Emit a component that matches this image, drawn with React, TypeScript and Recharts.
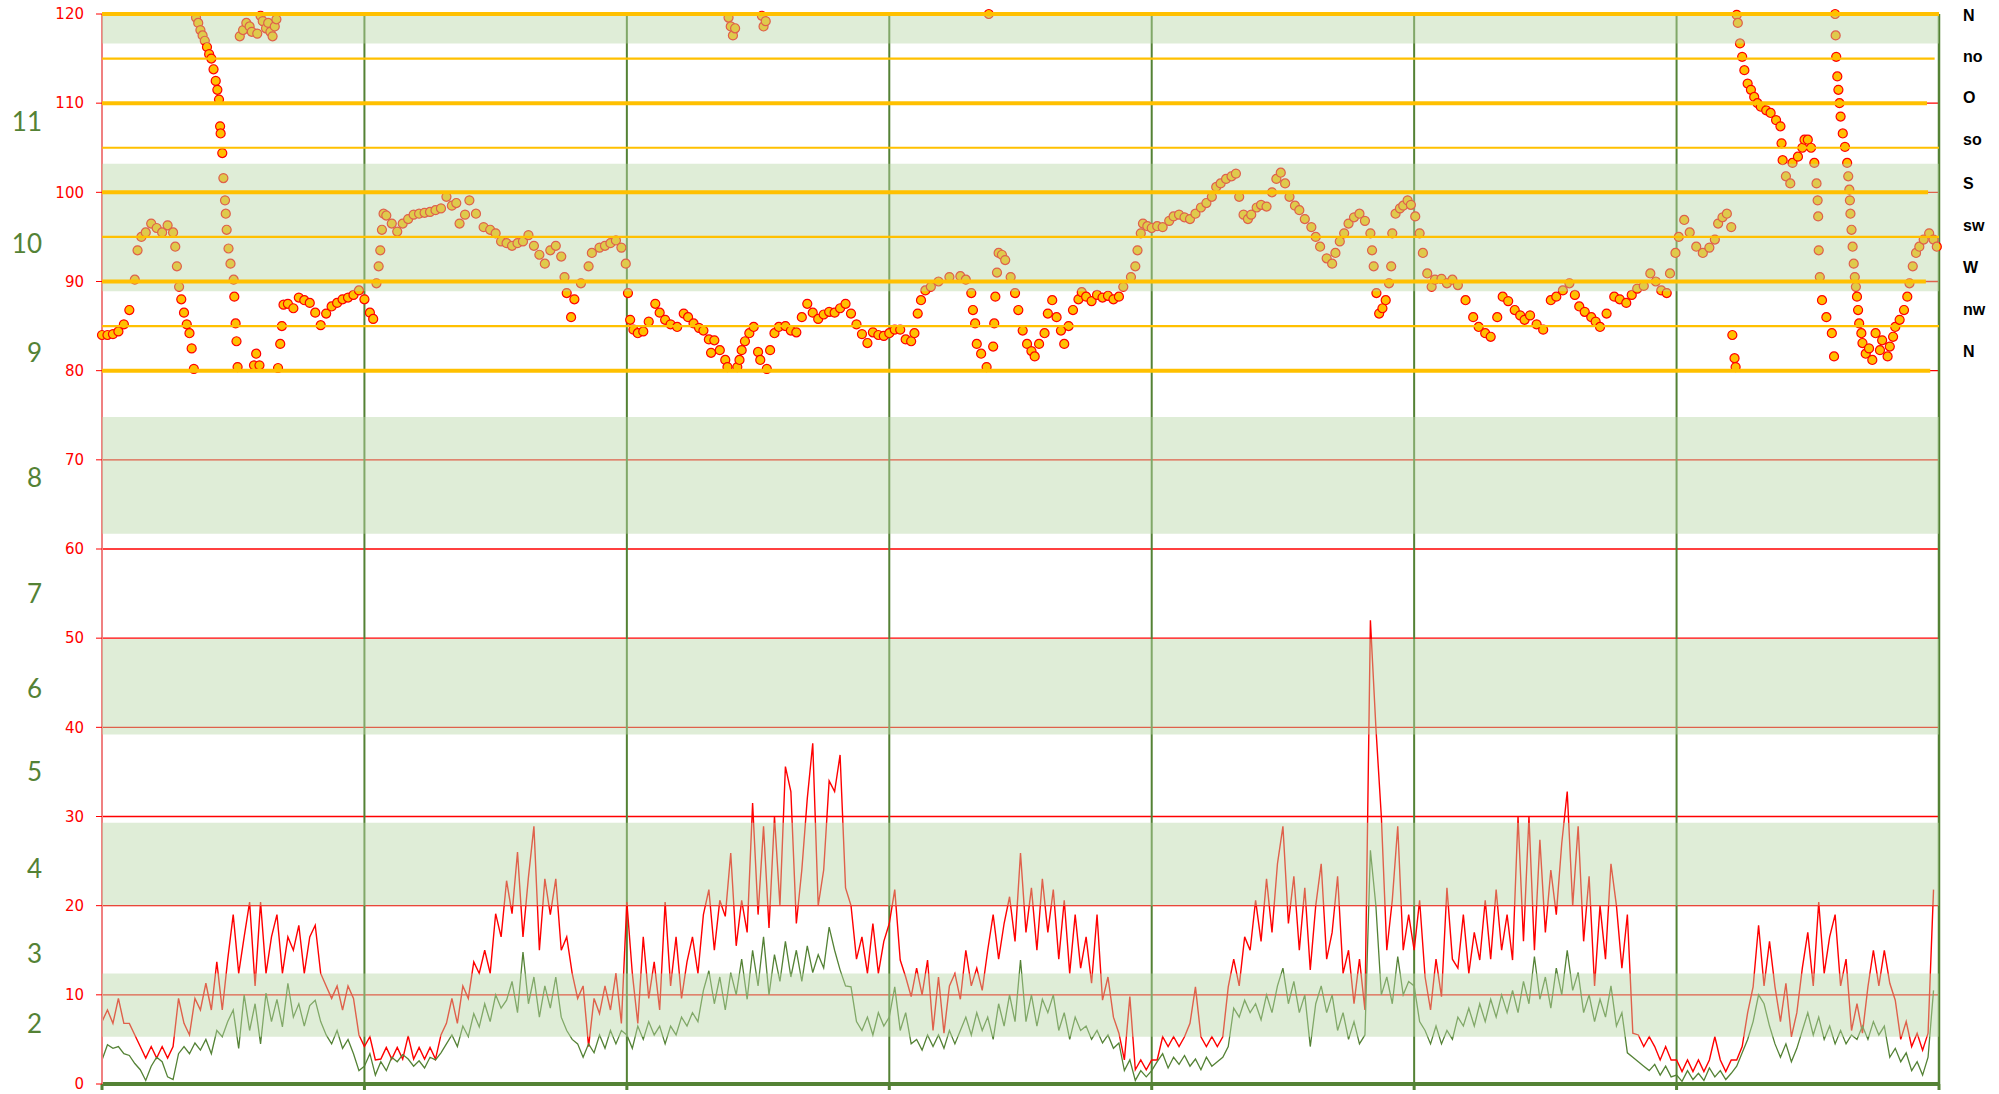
import {
  ComposedChart,
  Line,
  Scatter,
  XAxis,
  YAxis,
  CartesianGrid,
  ReferenceArea,
  ReferenceLine,
} from 'recharts'

// gust (km/h), one value per half hour, day by day
const gustDays = [
  [7, 8.3, 6.8, 9.6, 6.8, 6.8, 5.5, 4.2, 2.9, 4.2, 2.9, 4.2,
    2.9, 4.2, 9.6, 6.8, 5.5, 9.6, 8.3, 11.3, 8.3, 13.7, 8.3, 14,
    19, 12.4, 16.5, 20.4, 11, 20.4, 12.4, 16.5, 19, 12.4, 16.5, 15,
    17.8, 12.4, 16.5, 17.8, 12.4, 11, 9.6, 11, 8.3, 11, 9.6, 5.5],
  [4.2, 5.3, 2.7, 2.8, 4.1, 2.8, 4.1, 2.8, 5.4, 2.8, 4.1, 2.8,
    4.1, 2.8, 5.5, 6.8, 9.6, 6.8, 11, 9.6, 13.7, 12.4, 15, 12.4,
    19.1, 16.5, 22.8, 19.1, 26, 16.5, 23.2, 28.9, 15, 23, 19, 23,
    15, 16.5, 12.4, 9.6, 11, 4.2, 9.6, 7.9, 11, 8.3, 12.4, 6.8],
  [20.4, 12.4, 6.8, 16.5, 9.6, 13.7, 8.3, 20.4, 11, 16.5, 9.6, 13.7,
    16.5, 12.4, 19, 21.8, 15, 20.6, 18.8, 25.9, 15.5, 20.6, 17, 31.5,
    19, 28.9, 17.5, 30, 20, 35.6, 32.8, 18, 24, 32, 38.2, 20,
    24, 34, 32.8, 36.9, 22, 20, 14, 16.5, 12.4, 18, 12.4, 16],
  [18, 21.8, 13.9, 12, 9.8, 13, 10, 13.9, 6, 12, 5.7, 11,
    12.4, 9.5, 15, 11, 13, 10.5, 15, 19, 14, 18, 21, 16,
    25.9, 17, 22, 15, 23, 17, 21.8, 14, 20.6, 12.4, 19, 13,
    16.5, 11.3, 19, 9.4, 12, 7.5, 5.7, 2.7, 9.8, 1.6, 2.7, 1.6],
  [2.7, 2.7, 5.3, 4.2, 5.3, 4.2, 5.3, 6.8, 10.9, 5.3, 4.2, 5.3,
    4.2, 5.3, 10.9, 14, 11, 16.5, 15, 20.6, 16, 23, 17, 24.7,
    28.9, 18, 23.3, 15, 22, 12.8, 20, 24.7, 14, 17, 23.3, 12.4,
    15, 9, 14, 8.3, 52, 40, 30, 15, 20.6, 28.9, 15, 19],
  [15, 20.6, 12, 8.3, 14, 9.8, 22, 14, 13, 19, 12.4, 17,
    13.9, 20.6, 14, 21.8, 15, 19, 13.9, 30, 16, 30, 15, 27.4,
    17, 24, 19, 27, 32.8, 20, 28.9, 16, 23.3, 11, 20, 14,
    24.7, 20, 13, 19, 5.7, 5.5, 4.2, 5.3, 4.2, 2.7, 4.2, 2.7],
  [2.7, 1.4, 2.7, 1.4, 2.7, 1.4, 2.7, 5.3, 2.7, 1.4, 2.7, 2.7,
    4.2, 8, 10.9, 17.8, 11, 16, 10.9, 7, 11.3, 5.3, 8, 13,
    17, 11, 20.4, 12.4, 16.5, 19, 11, 14, 6, 9, 5.7, 10.9,
    15, 11, 15, 11.3, 9.4, 5, 7, 4.2, 5.7, 3.8, 5.7, 21.8],
]

// mean wind speed (km/h), same time steps
const speedDays = [
  [2.7, 4.4, 4, 4.2, 3.4, 3.2, 2.3, 1.6, 0.4, 2, 3, 2.5,
    0.8, 0.5, 3.4, 4.2, 3.4, 4.6, 3.8, 5, 3.4, 6, 5.3, 7,
    8.3, 4, 10, 6, 9, 4.5, 10.2, 7, 9.5, 6.4, 11.3, 7.5,
    9, 6.5, 8.8, 9.4, 7, 5.5, 4.5, 6, 4, 5, 3.4, 1.5],
  [2, 3.4, 1, 2.5, 1.5, 3, 2.5, 3.3, 2.8, 2, 2.6, 1.8,
    3, 2.7, 3.5, 4.5, 5.5, 4.2, 6.5, 5.3, 7.9, 6.4, 9, 7,
    10, 8.5, 9.4, 11.5, 8, 14.8, 9, 12, 7.5, 11, 8.5, 12,
    7.5, 6, 5, 4.5, 3, 4.5, 3.5, 5.5, 4, 6, 4.5, 6],
  [5.5, 4, 6.5, 5, 7, 5.5, 6.5, 4.5, 6.5, 5.5, 7.5, 6.5,
    8, 7, 10.5, 12.7, 9, 12, 8.3, 12.5, 10, 14, 9.5, 15,
    11, 16.5, 10, 14.5, 11.5, 16, 12, 15, 11.5, 15.5, 12.5, 14.5,
    13, 17.6, 15, 12.8, 11, 10.9, 7, 6, 7.5, 5.5, 8, 6.5],
  [7.5, 10.9, 6, 8, 4.5, 5, 3.8, 5.5, 4.2, 5.5, 4, 6,
    4.5, 6, 7.5, 5.5, 8, 6, 7.5, 5, 9, 6.5, 10, 7,
    13.9, 7, 10, 6.5, 9.5, 8, 10, 6, 8, 5, 7.5, 6,
    6.5, 5, 6, 4.6, 5.5, 4, 4.6, 1.5, 2.7, 0.4, 1.5, 0.8],
  [1.5, 2.5, 3.4, 1.8, 3, 2.2, 3.2, 2, 2.8, 1.6, 3, 2,
    2.5, 3, 4.2, 8.5, 7.5, 9.4, 8, 9, 7.2, 10, 8, 11,
    13, 9, 11.5, 8, 10, 4.2, 9, 11, 8, 10, 6, 8,
    5, 7, 4.5, 5.5, 26.2, 20, 10, 12, 9, 14.3, 10, 11.5],
  [11, 7, 6, 4.5, 6.5, 4.5, 6, 5, 7.5, 6.5, 8.5, 6.5,
    9, 7, 9.5, 7.5, 10, 8, 10.5, 8, 11.5, 9, 14.3, 9.5,
    12, 8.5, 13, 10, 15, 10.5, 12.5, 8, 10, 7, 9.5, 7.5,
    11, 6.5, 8, 3.5, 3, 2.5, 2, 1.5, 2.2, 1, 2, 0.8],
  [1, 0.3, 1.5, 0.5, 1.2, 0.4, 1.8, 0.8, 1.5, 0.5, 1.2, 2,
    3.5, 5, 7, 10, 9, 6.5, 4.5, 3, 4.5, 2.5, 4, 6,
    8, 5.5, 7.5, 5, 6.5, 4.5, 6, 4.5, 5.5, 5, 6.5, 5,
    7, 5.5, 6.5, 3, 4, 2.5, 3.5, 1.5, 2.5, 1, 3, 10.5],
]

// wind direction plotted on 80..120 (N at 80 and 120), [hour, value]
const dirPoints: [number, number][] = [
  [0, 84], [0.5, 84], [1, 84.1], [1.5, 84.4], [2, 85.2], [2.5, 86.8], [3, 90.2], [3.25, 93.5], [3.6, 95], [4, 95.5],
  [4.5, 96.5], [5, 96], [5.5, 95.5], [6, 96.3], [6.5, 95.5], [6.7, 93.9], [6.85, 91.7], [7.05, 89.4], [7.25, 88],
  [7.5, 86.5], [7.75, 85.2], [8, 84.2], [8.2, 82.5], [8.4, 80.2],
  [8.6, 119.6], [8.8, 119], [9, 118.2], [9.2, 117.6], [9.4, 117], [9.6, 116.3], [9.8, 115.5], [10, 115], [10.2, 113.8],
  [10.4, 112.5], [10.55, 111.5], [10.7, 110.4], [10.8, 107.4], [10.85, 106.6], [11, 104.4], [11.1, 101.6],
  [11.25, 99.1], [11.32, 97.6], [11.4, 95.8], [11.57, 93.7], [11.75, 92], [12.04, 90.2], [12.1, 88.3], [12.22, 85.3],
  [12.3, 83.3], [12.4, 80.4],
  [12.6, 117.5], [12.9, 118.2], [13.2, 119], [13.5, 118.6], [13.7, 118], [13.9, 80.6], [14.1, 81.9], [14.2, 117.8],
  [14.4, 80.6], [14.5, 119.8], [14.7, 119.2], [15, 118.4], [15.2, 119], [15.4, 118], [15.6, 117.5], [15.8, 118.6],
  [15.95, 119.4], [16.1, 80.3],
  [16.3, 83], [16.45, 85], [16.6, 87.4], [17, 87.5], [17.5, 87], [18, 88.2], [18.5, 87.9], [19, 87.6], [19.5, 86.5],
  [20, 85.1], [20.5, 86.4], [21, 87.2], [21.5, 87.6], [22, 88], [22.5, 88.2], [23, 88.5], [23.5, 89], [24, 88],
  [24.5, 86.5], [24.8, 85.8],
  [25.1, 89.8], [25.3, 91.7], [25.45, 93.5], [25.6, 95.8], [25.75, 97.6], [26, 97.4], [26.5, 96.5], [27, 95.6],
  [27.5, 96.5], [28, 97], [28.5, 97.5], [29, 97.6], [29.5, 97.7], [30, 97.8], [30.5, 98], [31, 98.2], [31.5, 99.5],
  [32, 98.5], [32.4, 98.8], [32.7, 96.5], [33.2, 97.5], [33.6, 99.1], [34.2, 97.6], [34.9, 96.1], [35.5, 95.8],
  [36, 95.4], [36.5, 94.5], [37, 94.3], [37.5, 94], [38, 94.3], [38.5, 94.5], [39, 95.2], [39.5, 94], [40, 93],
  [40.5, 92], [41, 93.5], [41.5, 94], [42, 92.8], [42.3, 90.5], [42.5, 88.7], [42.9, 86], [43.2, 88], [43.8, 89.8],
  [44.5, 91.7], [44.8, 93.2], [45.5, 93.8], [46, 94], [46.5, 94.3], [47, 94.6], [47.5, 93.8], [47.9, 92],
  [48.1, 88.7], [48.3, 85.7],
  [48.6, 84.6], [49, 84.2], [49.5, 84.4], [50, 85.5], [50.6, 87.5], [51, 86.5], [51.5, 85.7], [52, 85.2], [52.6, 84.9],
  [53.2, 86.4], [53.6, 86], [54.1, 85.3], [54.6, 84.8], [55, 84.5], [55.5, 83.5], [55.7, 82], [56, 83.4], [56.5, 82.3],
  [57, 81.2], [57.2, 80.4],
  [57.3, 119.6], [57.5, 118.6], [57.7, 117.6], [57.9, 118.4], [58.1, 80.4], [58.3, 81.2], [58.5, 82.3], [58.8, 83.3],
  [59.2, 84.2], [59.6, 84.9], [60, 82.1], [60.2, 81.2], [60.35, 119.8], [60.5, 118.6], [60.7, 119.2], [60.8, 80.2],
  [61.1, 82.3], [61.5, 84.2], [61.9, 84.9], [62.5, 85], [63, 84.5], [63.5, 84.3], [64, 86], [64.5, 87.5], [65, 86.5],
  [65.5, 85.8], [66, 86.3], [66.5, 86.6], [67, 86.5], [67.5, 87], [68, 87.5], [68.5, 86.4], [69, 85.2], [69.5, 84.1],
  [70, 83.1], [70.5, 84.3], [71, 84], [71.5, 83.9],
  [72, 84.2], [72.5, 84.6], [73, 84.6], [73.5, 83.5], [74, 83.3], [74.3, 84.2], [74.6, 86.4], [74.9, 87.9], [75.3, 89],
  [75.8, 89.4], [76.5, 90], [77.5, 90.5], [78.5, 90.6], [79, 90.2], [79.5, 88.7], [79.65, 86.8], [79.85, 85.3], [80, 83],
  [80.4, 81.9], [80.9, 80.4], [81.1, 120], [81.5, 82.7], [81.6, 85.3], [81.7, 88.3], [81.85, 91], [82, 93.2],
  [82.3, 93], [82.6, 92.4], [83.1, 90.5], [83.5, 88.7], [83.8, 86.8], [84.2, 84.5], [84.6, 83], [85, 82.2],
  [85.3, 81.6], [85.7, 83], [86.2, 84.2], [86.5, 86.4], [86.9, 87.9], [87.3, 86], [87.7, 84.5], [88, 83], [88.4, 85],
  [88.8, 86.8], [89.3, 88], [89.6, 88.8], [90, 88.3], [90.5, 87.8], [91, 88.5], [91.5, 88.2], [92, 88.4], [92.5, 88],
  [93, 88.3], [93.4, 89.4], [94.1, 90.5], [94.5, 91.7], [94.7, 93.5], [95, 95.4], [95.2, 96.5], [95.6, 96.2],
  [96, 96], [96.5, 96.2], [97, 96.1], [97.6, 96.8], [98, 97.3], [98.5, 97.5], [99, 97.2], [99.5, 97], [100, 97.6],
  [100.5, 98.3], [101, 98.8], [101.5, 99.5], [101.9, 100.6], [102.3, 101], [102.8, 101.5], [103.3, 101.8],
  [103.7, 102.1], [104, 99.5], [104.4, 97.5], [104.8, 97], [105.1, 97.5], [105.6, 98.3], [106, 98.6], [106.5, 98.4],
  [107, 100], [107.4, 101.5], [107.8, 102.2], [108.2, 101], [108.6, 99.5], [109.1, 98.5], [109.5, 98], [110, 97],
  [110.6, 96.1], [111, 95], [111.4, 93.9], [112, 92.6], [112.5, 92], [112.8, 93.2], [113.2, 94.5], [113.6, 95.4],
  [114, 96.5], [114.5, 97.2], [115, 97.6], [115.5, 96.8], [116, 95.4], [116.15, 93.5], [116.3, 91.7], [116.55, 88.7],
  [116.8, 86.4], [117.1, 87], [117.4, 87.9], [117.7, 89.8], [117.9, 91.7], [118, 95.4], [118.3, 97.6], [118.7, 98.2],
  [119, 98.5], [119.4, 99.1], [119.7, 98.6],
  [120.1, 97.3], [120.5, 95.4], [120.8, 93.2], [121.2, 90.9], [121.6, 89.4], [121.9, 90.2], [122.5, 90.3], [123, 89.8],
  [123.5, 90.2], [124, 89.6], [124.7, 87.9], [125.4, 86], [125.9, 84.9], [126.5, 84.2], [127, 83.8], [127.6, 86],
  [128.1, 88.3], [128.6, 87.8], [129.2, 86.8], [129.7, 86.2], [130.1, 85.7], [130.6, 86.2], [131.2, 85.2],
  [131.8, 84.6], [132.5, 87.9], [133, 88.3], [133.6, 89], [134.2, 89.8], [134.7, 88.5], [135.1, 87.2], [135.6, 86.6],
  [136.2, 86], [136.6, 85.5], [137, 84.9], [137.6, 86.4], [138.3, 88.3], [138.8, 88], [139.4, 87.6], [139.9, 88.5],
  [140.4, 89.2], [141, 89.5], [141.6, 90.9], [142.1, 90], [142.6, 89], [143.1, 88.7], [143.4, 90.9], [143.9, 93.2],
  [144.2, 95], [144.7, 96.9], [145.2, 95.5], [145.8, 93.9], [146.4, 93.2], [147, 93.8], [147.5, 94.7], [147.8, 96.5],
  [148.2, 97.2], [148.6, 97.6], [149, 96.1], [149.1, 84], [149.3, 81.4], [149.4, 80.4],
  [149.5, 119.9], [149.6, 119], [149.8, 116.7], [150, 115.2], [150.2, 113.7], [150.5, 112.2], [150.8, 111.5],
  [151.1, 110.7], [151.4, 110], [151.7, 109.6], [152.2, 109.2], [152.6, 108.9], [153.1, 108.1], [153.5, 107.4],
  [153.6, 105.5], [153.7, 103.6], [154, 101.8], [154.4, 101], [154.6, 103.3], [155.1, 104], [155.5, 105],
  [155.7, 105.9], [156, 105.9], [156.3, 105], [156.6, 103.3], [156.8, 101], [156.9, 99.1], [156.95, 97.3],
  [157, 93.5], [157.1, 90.5], [157.3, 87.9], [157.7, 86], [158.2, 84.2], [158.4, 81.6],
  [158.5, 120], [158.55, 117.6], [158.6, 115.2], [158.7, 113], [158.8, 111.5], [158.9, 110], [159, 108.5],
  [159.2, 106.6], [159.4, 105.1], [159.6, 103.3], [159.7, 101.8], [159.8, 100.3], [159.85, 99.1], [159.9, 97.6],
  [160, 95.8], [160.1, 93.9], [160.2, 92], [160.3, 90.5], [160.4, 89.4], [160.5, 88.3], [160.6, 86.8], [160.7, 85.3],
  [160.9, 84.2], [161, 83.1], [161.3, 81.9], [161.6, 82.5], [161.9, 81.2], [162.2, 84.2], [162.6, 82.3], [162.8, 83.4],
  [163.3, 81.6], [163.5, 82.7], [163.8, 83.8], [164, 84.9], [164.4, 85.7], [164.8, 86.8], [165.1, 88.3], [165.3, 89.8],
  [165.6, 91.7], [165.9, 93.2], [166.2, 93.9], [166.6, 94.7], [167.1, 95.4], [167.5, 94.7], [167.8, 93.9],
]

const kmhTicks = [0, 10, 20, 30, 40, 50, 60, 70, 80, 90, 100, 110, 120]
const dayTicks = [0, 24, 48, 72, 96, 120, 144, 168]
// Beaufort bands and labels (in km/h units of the left axis)
const bftBands = [[5.3, 12.4], [20, 29.3], [39.2, 49.9], [61.7, 74.8], [88.9, 103.2], [116.7, 120]]
const bftPos = [6.8, 14.6, 24.1, 35, 44.3, 55, 68, 82, 94.2, 107.9]
const bftNames = ['2', '3', '4', '5', '6', '7', '8', '9', '10', '11']
// compass labels on the right
const dirNamePos = [119.9, 115.2, 110.6, 105.9, 101, 96.3, 91.6, 86.9, 82.2]
const dirNames = ['N', 'no', 'O', 'so', 'S', 'sw', 'W', 'nw', 'N']
const dirLevels = [120, 115, 110, 105, 100, 95, 90, 85, 80]
const dirLevelEnds = [168, 167.6, 166.9, 168, 167, 168, 166.8, 168, 167.2]

const gust = gustDays.flat()
const speed = speedDays.flat()
const rows = gust.map((g, i) => ({ h: i * 0.5, gust: g, speed: speed[i] }))
const dirRows = dirPoints.map(([h, dir]) => ({ h, dir }))

export default function App() {
  return (
    <div style={{ position: 'absolute', left: 0, top: 0, width: 1999, height: 1094, background: '#fff' }}>
      <ComposedChart width={1999} height={1094} data={rows} margin={{ top: 14, right: 60, bottom: 0, left: 40 }}>
        <CartesianGrid vertical={false} stroke="#ff0000" strokeWidth={1.3} />
        <XAxis
          type="number"
          dataKey="h"
          domain={[0, 168]}
          ticks={dayTicks}
          interval={0}
          tickFormatter={() => ''}
          height={10}
          tickSize={6}
          axisLine={{ stroke: '#548235', strokeWidth: 4 }}
          tickLine={{ stroke: '#548235', strokeWidth: 3 }}
        />
        <YAxis
          type="number"
          domain={[0, 120]}
          ticks={kmhTicks}
          interval={0}
          width={62}
          tickSize={6}
          tickMargin={12}
          axisLine={{ stroke: '#f08080', strokeWidth: 2 }}
          tickLine={{ stroke: '#ff0000' }}
          tick={{ fill: '#ff0000', fontSize: 15, fontFamily: 'DejaVu Sans' }}
        />

        {dayTicks.slice(1).map((d) => (
          <ReferenceLine
            key={'d' + d}
            x={d}
            stroke="#548235"
            strokeWidth={d === 168 ? 2.5 : 2}
            zIndex={50}
          />
        ))}

        <Line
          dataKey="gust"
          stroke="#ff0000"
          strokeWidth={1.4}
          dot={false}
          isAnimationActive={false}
        />
        <Line
          dataKey="speed"
          stroke="#548235"
          strokeWidth={1.3}
          dot={false}
          isAnimationActive={false}
        />
        <Scatter
          data={dirRows}
          dataKey="dir"
          fill="#ffc000"
          stroke="#ff0000"
          strokeWidth={1.2}
          isAnimationActive={false}
        />

        {bftBands.map(([a, b]) => (
          <ReferenceArea
            key={'b' + a}
            y1={a}
            y2={b}
            fill="#b9d8a6"
            fillOpacity={0.45}
            stroke="none"
            zIndex={700}
          />
        ))}

        {dirLevels.map((lv, i) => (
          <ReferenceLine
            key={'o' + lv}
            segment={[{ x: 0, y: lv }, { x: dirLevelEnds[i], y: lv }]}
            stroke="#ffc000"
            strokeWidth={lv % 10 === 0 ? 4 : 2.2}
            zIndex={800}
          />
        ))}

        {bftPos.map((p, i) => (
          <ReferenceLine
            key={'bl' + p}
            y={p}
            stroke="none"
            label={{
              value: bftNames[i],
              position: 'left',
              offset: 60,
              fill: '#548235',
              fontSize: 26,
              fontFamily: 'Lato',
            }}
          />
        ))}

        {dirNamePos.map((p, i) => (
          <ReferenceLine
            key={'dl' + p}
            y={p}
            stroke="none"
            label={{
              value: dirNames[i],
              position: 'right',
              offset: 24,
              fill: '#000',
              fontSize: 16,
              fontWeight: 'bold',
              fontFamily: 'Liberation Sans',
            }}
          />
        ))}
      </ComposedChart>
    </div>
  )
}
